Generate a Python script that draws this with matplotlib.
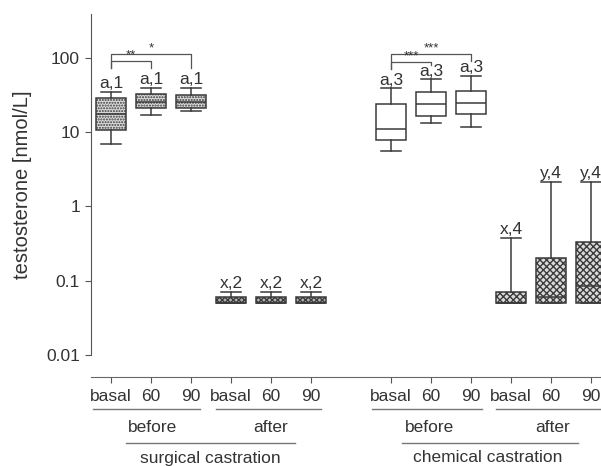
import matplotlib
matplotlib.use("Agg")
import matplotlib.pyplot as plt
from matplotlib.transforms import blended_transform_factory

plt.rcParams["font.family"] = ["Liberation Sans", "DejaVu Sans"]

# ---- data ----
positions = [0, 1, 2, 3, 4, 5, 7, 8, 9, 10, 11, 12]
tick_labels = ["basal", "60", "90"] * 4
whislo = [6.9, 17.1, 19.2, 0.05, 0.05, 0.05, 5.5, 13.2, 11.8, 0.05, 0.05, 0.05]
q1 = [10.7, 20.9, 20.9, 0.05, 0.05, 0.05, 7.96, 16.5, 17.5, 0.05, 0.05, 0.05]
med = [17.3, 25.6, 25.5, 0.05, 0.05, 0.05, 11.0, 23.7, 24.7, 0.05, 0.0603, 0.0855]
q3 = [28.8, 32.6, 31.9, 0.0603, 0.0603, 0.0603, 23.7, 34.4, 35.5, 0.0703, 0.203, 0.333]
whishi = [34.7, 39.7, 39.7, 0.0703, 0.0703, 0.0703, 38.9, 51.5, 57.7, 0.377, 2.16, 2.16]
letters = ["a,1", "a,1", "a,1", "x,2", "x,2", "x,2", "a,3", "a,3", "a,3", "x,4", "y,4", "y,4"]
phase_labels = ["before", "after", "before", "after"]
group_labels = ["surgical castration", "chemical castration"]
# (box index a, box index b, stars)
sig_pairs = [(0, 1, "**"), (0, 2, "*"), (6, 7, "***"), (6, 8, "***")]

W, H = 601, 466
fig = plt.figure(figsize=(W / 100, H / 100), dpi=100)
ax = fig.add_axes([91 / W, 1 - 355 / H, 510 / W, 341 / H])
ax.set_yscale("log")
ax.set_ylim(0.01, 390)
ax.set_xlim(-0.5, 12.25)

stats = []
for i in range(len(positions)):
    stats.append(dict(whislo=whislo[i], q1=q1[i], med=med[i], q3=q3[i],
                      whishi=whishi[i], fliers=[]))

lc = "#3a3a3a"
bp = ax.bxp(stats, positions=positions, widths=0.76, patch_artist=True,
            showfliers=False,
            boxprops=dict(edgecolor=lc, linewidth=1.1),
            medianprops=dict(color=lc, linewidth=1.1),
            whiskerprops=dict(color=lc, linewidth=1.1),
            capprops=dict(color=lc, linewidth=1.1),
            capwidths=0.5)

plt.rcParams["hatch.linewidth"] = 0.6
for i, box in enumerate(bp["boxes"]):
    if i < 3:
        box.set_facecolor("#dcdcdc")
        box.set_hatch("......")
    elif i < 6:
        box.set_facecolor("#b5b5b5")
        box.set_hatch("xxxxxx")
    elif i < 9:
        box.set_facecolor("white")
    else:
        box.set_facecolor("#dadada")
        box.set_hatch("xxxxx")

# letters sitting on the whisker caps
for i, p in enumerate(positions):
    ax.text(p, whishi[i] * 1.12, letters[i], ha="center", va="baseline",
            fontsize=12.5, color="#333333")

# significance brackets (top, left-leg bottom, right-leg bottom)
bracket_y = {(0, 1): (91, 73, 73), (0, 2): (113, 73, 73),
             (6, 7): (89, 71, 81), (6, 8): (113, 71, 91)}
for a, b, s in sig_pairs:
    xa, xb = positions[a], positions[b]
    top, la, lb = bracket_y[(a, b)]
    ax.plot([xa, xa, xb, xb], [la, top, top, lb], color="#555555", lw=0.9,
            clip_on=False)
    ax.text((xa + xb) / 2, top * 0.99, s, ha="center", va="bottom",
            fontsize=9.5, color="#333333")

# axes styling
for sp in ["top", "right"]:
    ax.spines[sp].set_visible(False)
ax.spines["left"].set_color("#555555")
ax.spines["bottom"].set_color("#666666")
ax.spines["bottom"].set_position(("outward", 15.8))
ax.set_yticks([0.01, 0.1, 1, 10, 100])
ax.set_yticklabels(["0.01", "0.1", "1", "10", "100"])
ax.minorticks_off()
ax.tick_params(axis="y", length=4, color="#555555", labelsize=12.5,
               labelcolor="#333333", pad=4)
ax.set_xticks(positions)
ax.set_xticklabels(tick_labels)
ax.tick_params(axis="x", length=4, color="#555555", labelsize=12.5,
               labelcolor="#333333", pad=5)
ax.set_ylabel("testosterone [nmol/L]", fontsize=14.5, color="#333333",
              labelpad=10)

# group lines and labels below the axis
tr = blended_transform_factory(ax.transData, fig.transFigure)
def fy(py):
    return 1 - py / H

line_specs = [(-0.45, 2.225, 409), (2.625, 5.25, 409), (6.525, 9.275, 409),
              (9.625, 12.6, 409), (0.375, 4.6, 443), (7.275, 11.675, 443)]
for x0, x1, py in line_specs:
    ax.plot([x0, x1], [fy(py), fy(py)], transform=tr, color="#777777",
            lw=1.0, clip_on=False)

phase_x = [1.05, 4.0, 7.975, 11.05]
for x, t in zip(phase_x, phase_labels):
    ax.text(x, fy(427), t, transform=tr, ha="center", va="center",
            fontsize=12.5, color="#333333")
group_x = [2.475, 9.425]
for x, t in zip(group_x, group_labels):
    ax.text(x, fy(458), t, transform=tr, ha="center", va="center",
            fontsize=12.5, color="#333333")

fig.savefig("out.png", dpi=100)
